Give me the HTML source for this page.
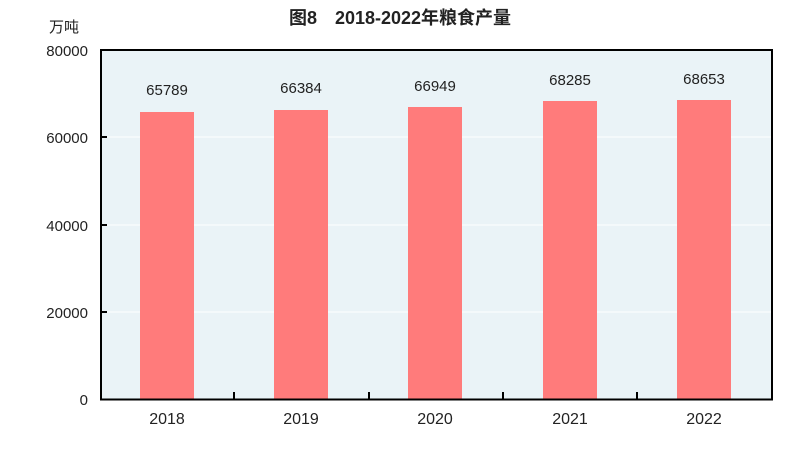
<!DOCTYPE html>
<html><head><meta charset="utf-8"><style>
body{margin:0;background:#fff;}
svg text{font-family:"Liberation Sans","Noto Sans CJK SC",sans-serif;}
</style></head><body>
<svg width="800" height="444" xmlns="http://www.w3.org/2000/svg">
<rect width="800" height="444" fill="#fff"/>
<text x="400" y="24" text-anchor="middle" font-size="18" font-weight="bold" fill="#222" font-family="'Noto Sans CJK SC',sans-serif">图8　2018-2022年粮食产量</text>
<text x="64" y="32" text-anchor="middle" font-size="15" fill="#222" font-family="'Noto Sans CJK SC',sans-serif">万吨</text>
<rect x="101" y="50" width="671" height="349.5" fill="#eaf3f7"/>
<g stroke="#fff" stroke-width="1">
<line x1="101" y1="137" x2="772" y2="137"/>
<line x1="101" y1="225" x2="772" y2="225"/>
<line x1="101" y1="312" x2="772" y2="312"/>
</g>
<g fill="#ff7b7b">
<rect x="140" y="112" width="54" height="287.5"/>
<rect x="274" y="110" width="54" height="289.5"/>
<rect x="408" y="107" width="54" height="292.5"/>
<rect x="543" y="101" width="54" height="298.5"/>
<rect x="677" y="100" width="54" height="299.5"/>
</g>
<rect x="101" y="50" width="671" height="349.5" fill="none" stroke="#000" stroke-width="2"/>
<g stroke="#000" stroke-width="2">
<line x1="101" y1="137" x2="107" y2="137"/>
<line x1="101" y1="225" x2="107" y2="225"/>
<line x1="101" y1="312" x2="107" y2="312"/>
<line x1="234" y1="399" x2="234" y2="392"/>
<line x1="369" y1="399" x2="369" y2="392"/>
<line x1="503" y1="399" x2="503" y2="392"/>
<line x1="637" y1="399" x2="637" y2="392"/>
</g>
<g font-size="15" fill="#222" text-anchor="end">
<text x="88" y="56">80000</text>
<text x="88" y="143">60000</text>
<text x="88" y="231">40000</text>
<text x="88" y="318">20000</text>
<text x="88" y="405">0</text>
</g>
<g font-size="15" fill="#222" text-anchor="middle">
<text x="167" y="95">65789</text>
<text x="301" y="93">66384</text>
<text x="435" y="91">66949</text>
<text x="570" y="85">68285</text>
<text x="704" y="84">68653</text>
</g>
<g font-size="16" fill="#222" text-anchor="middle" style="font-family:'Liberation Serif',serif">
<text x="167" y="424">2018</text>
<text x="301" y="424">2019</text>
<text x="435" y="424">2020</text>
<text x="570" y="424">2021</text>
<text x="704" y="424">2022</text>
</g>
</svg>
</body></html>
